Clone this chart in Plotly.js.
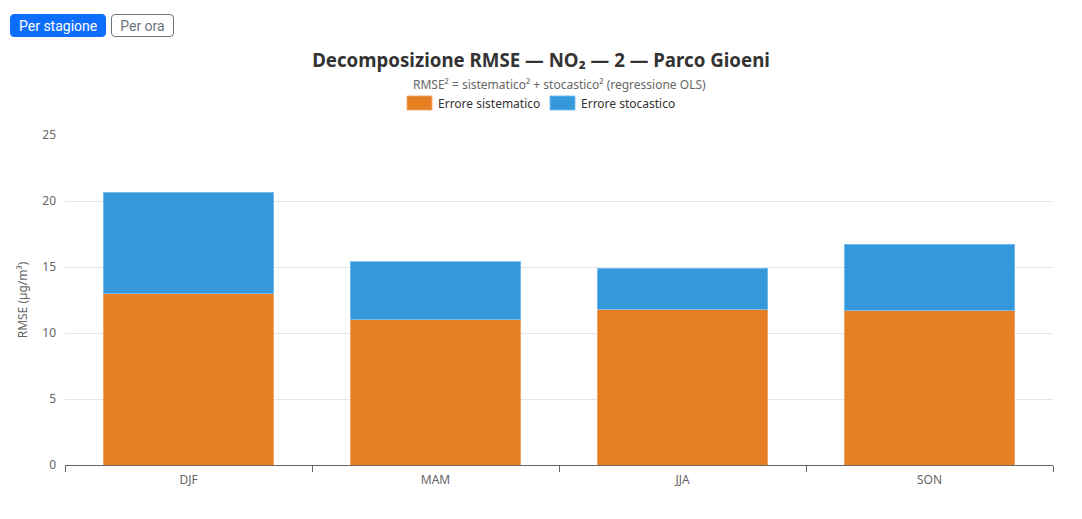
<!DOCTYPE html>
<html>
<head>
<meta charset="utf-8">
<script src="https://cdn.plot.ly/plotly-3.0.1.min.js"></script>
<style>
    body { margin: 0; background: #ffffff; font-family: "Noto Sans", sans-serif; }
    #pagina { position: relative; width: 1082px; height: 519px; }
    .botoni { position: absolute; left: 10px; top: 14px; z-index: 5; display: flex; gap: 5px; }
    .botoni button { font-family: Roboto, sans-serif; font-size: 14px; height: 23px; padding: 0 8px; border-radius: 4px; cursor: pointer; }
    .attivo { background: #0d6efd; color: #ffffff; border: 1px solid #0d6efd; }
    .inattivo { background: #ffffff; color: #6c757d; border: 1px solid #6c757d; }
    #grafico { position: absolute; left: 0; top: 0; width: 1082px; height: 519px; }
</style>
</head>
<body>
<div id="pagina">
    <div class="botoni">
        <button class="attivo">Per stagione</button>
        <button class="inattivo">Per ora</button>
    </div>
    <div id="grafico"></div>
</div>
<script>
"use strict";

// Stagioni e valori
const stagioni = ['DJF', 'MAM', 'JJA', 'SON'];
const erroreSistematico = [12.98, 11.01, 11.8, 11.72];
const erroreStocastico = [7.68, 4.37, 3.1, 5.0];
const tickY = [0, 5, 10, 15, 20, 25];

const nomi = ['Errore sistematico', 'Errore stocastico'];
const colori = ['#e67e22', '#3498db'];
const bordi = ['rgba(240,170,110,0.9)', 'rgba(120,190,240,0.9)'];

const traceSistematico = {
    x: stagioni,
    y: erroreSistematico,
    type: 'bar',
    name: nomi[0],
    marker: { color: colori[0], line: { color: bordi[0], width: 1 } },
    hoverinfo: 'none'
};

const traceStocastico = {
    x: stagioni,
    y: erroreStocastico,
    type: 'bar',
    name: nomi[1],
    marker: { color: colori[1], line: { color: bordi[1], width: 1 } },
    hoverinfo: 'none'
};

// Area del grafico in pixel (per convertire la legenda in coordinate paper)
const sinistra = 65, larghezza = 988, alto = 135, altezza = 330;
const px = v => (v - sinistra) / larghezza;
const py = v => 1 + (alto - v) / altezza;

// Legenda disegnata a mano: riquadri larghi come nell'originale
const inizioVoci = [407, 550];
const forme = [];
const notes = [{
    text: 'RMSE² = sistematico² + stocastico² (regressione OLS)',
    xref: 'paper', yref: 'paper',
    x: 0.5, y: py(84),
    xanchor: 'center', yanchor: 'middle',
    showarrow: false,
    font: { size: 12, color: '#666666' }
}];
inizioVoci.forEach((x0, i) => {
    forme.push({
        type: 'rect', xref: 'paper', yref: 'paper',
        x0: px(x0), x1: px(x0 + 25), y0: py(110), y1: py(96),
        fillcolor: colori[i], line: { color: bordi[i], width: 1 }
    });
    notes.push({
        text: nomi[i], xref: 'paper', yref: 'paper',
        x: px(x0 + 29), y: py(103.5),
        xanchor: 'left', yanchor: 'middle',
        showarrow: false,
        font: { size: 12, color: '#333333' }
    });
});

const layout = {
    width: 1082,
    height: 519,
    barmode: 'stack',
    bargap: 0.31,
    font: { family: '"Noto Sans", sans-serif', color: '#666666', size: 12 },
    margin: { l: sinistra, r: 1082 - sinistra - larghezza, t: alto, b: 519 - alto - altezza },
    paper_bgcolor: 'rgba(0,0,0,0)',
    plot_bgcolor: '#ffffff',
    title: {
        text: '<b>Decomposizione RMSE — NO₂ — 2 — Parco Gioeni</b>',
        font: { size: 18.7, color: '#333333' },
        x: 0.5,
        xanchor: 'center',
        y: 1 - 60 / 519,
        yref: 'container',
        yanchor: 'middle'
    },
    annotations: notes,
    shapes: forme,
    showlegend: false,
    xaxis: {
        type: 'category',
        showgrid: false,
        showline: true,
        linecolor: '#666666',
        linewidth: 1,
        ticks: 'outside',
        tickson: 'boundaries',
        ticklen: 6,
        tickcolor: '#666666',
        ticklabelstandoff: 4,
        tickfont: { size: 12, color: '#666666' },
        fixedrange: true
    },
    yaxis: {
        range: [0, 25],
        tickvals: tickY,
        showgrid: true,
        gridcolor: '#e4e4ec',
        zeroline: false,
        showline: false,
        ticks: '',
        ticklabelstandoff: 8,
        tickfont: { size: 12, color: '#666666' },
        title: { text: 'RMSE (µg/m³)', font: { size: 12, color: '#666666' }, standoff: 12 },
        fixedrange: true
    }
};

const config = { displayModeBar: false, staticPlot: true };

Plotly.newPlot('grafico', [traceSistematico, traceStocastico], layout, config);
</script>
</body>
</html>
